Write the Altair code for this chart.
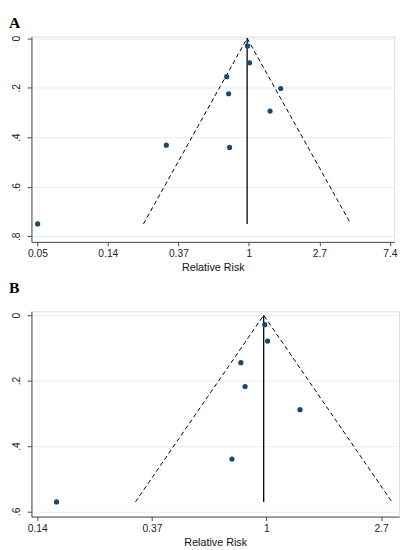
import math
import altair as alt
import pandas as pd

# ---------------- data ----------------
# Panel A
a_rr = [0.98, 1.01, 0.73, 1.57, 0.75, 1.35, 0.31, 0.76, 0.05]
a_se = [0.031, 0.099, 0.155, 0.203, 0.224, 0.294, 0.432, 0.441, 0.750]
a_pooled = 0.975
a_semax = 0.75

# Panel B
b_rr = [0.985, 1.01, 0.80, 0.83, 1.34, 0.74, 0.16]
b_se = [0.029, 0.079, 0.145, 0.218, 0.289, 0.440, 0.571]
b_pooled = 0.976
b_semax = 0.571

a_xticks = [0.0498, 0.1353, 0.3679, 1.0, 2.7183, 7.3891]
a_xlabels = ["0.05", "0.14", "0.37", "1", "2.7", "7.4"]
b_xticks = [0.1353, 0.3679, 1.0, 2.7183]
b_xlabels = ["0.14", "0.37", "1", "2.7"]

a_yticks = [0, 0.2, 0.4, 0.6, 0.8]
b_yticks = [0, 0.2, 0.4, 0.6]

a_xdomain = [0.0458, 7.84]
b_xdomain = [0.1286, 3.18]
a_ydomain = [-0.0067, 0.8226]
b_ydomain = [-0.012, 0.616]

POINT = "#1a476f"
GRID = "#e3ebf2"
AXIS = "#4a4a4a"
SANS = "Liberation Sans"
SERIF = "Liberation Serif"


def label_expr(vals, labels):
    expr = "'" + labels[-1] + "'"
    for i in range(len(vals) - 2, -1, -1):
        mid = math.sqrt(vals[i] * vals[i + 1])
        expr = f"datum.value < {mid} ? '{labels[i]}' : ({expr})"
    return expr


def panel(letter, rr, se, pooled, semax, xticks, xlabels, yticks, xdom, ydom,
          w, h, title_offset):
    pts = pd.DataFrame({"rr": rr, "se": se})
    z = 1.96
    funnel = pd.DataFrame({
        "rr": [pooled * math.exp(-z * semax), pooled, pooled * math.exp(z * semax)],
        "se": [semax, 0.0, semax],
        "o": [0, 1, 2],
    })
    vline = pd.DataFrame({"rr": [pooled], "se": [0.0], "se2": [semax]})

    xscale = alt.Scale(type="log", domain=xdom, nice=False, zero=False)
    yscale = alt.Scale(domain=ydom, reverse=True, nice=False, zero=False)

    xaxis = alt.Axis(
        values=xticks, labelExpr=label_expr(xticks, xlabels), title="Relative Risk",
        grid=False, tickSize=4, labelPadding=3, labelFontSize=10.5, labelFont=SANS,
        labelColor="#222222", titleFont=SANS, titleFontSize=11, titleFontWeight="normal",
        titleColor="#111111", titlePadding=3, domainColor=AXIS, tickColor=AXIS,
        labelFlush=False,
    )
    yaxis = alt.Axis(
        values=yticks,
        labelExpr="datum.value == 0 ? '0' : replace(format(datum.value, '.1f'), '0.', '.')",
        title=None, grid=True, gridColor=GRID, gridWidth=1, tickSize=4.5,
        labelAngle=270, labelAlign="center", labelBaseline="bottom", labelPadding=6,
        labelFontSize=10.5, labelFont=SANS, labelColor="#222222",
        domainColor=AXIS, tickColor=AXIS, minExtent=21, maxExtent=21,
    )

    base_x = alt.X("rr:Q", scale=xscale, axis=xaxis)
    base_y = alt.Y("se:Q", scale=yscale, axis=yaxis)

    fun = alt.Chart(funnel).mark_line(
        color="black", strokeWidth=1, strokeDash=[4.5, 3], clip=True
    ).encode(x=base_x, y=base_y, order="o:O")

    rule = alt.Chart(vline).mark_rule(color="black", strokeWidth=1.3).encode(
        x=alt.X("rr:Q", scale=xscale), y=alt.Y("se:Q", scale=yscale), y2="se2:Q"
    )

    dots = alt.Chart(pts).mark_circle(color=POINT, opacity=1, size=28).encode(
        x=alt.X("rr:Q", scale=xscale), y=alt.Y("se:Q", scale=yscale)
    )

    return alt.layer(fun, rule, dots).properties(
        width=w, height=h,
        title=alt.TitleParams(
            letter, anchor="start", frame="group", dx=-23, font=SERIF, fontSize=16,
            fontWeight="bold", color="black", offset=title_offset,
        ),
    )


pa = panel("A", a_rr, a_se, a_pooled, a_semax, a_xticks, a_xlabels, a_yticks,
           a_xdomain, a_ydomain, 371, 210, 5)
pb = panel("B", b_rr, b_se, b_pooled, b_semax, b_xticks, b_xlabels, b_yticks,
           b_xdomain, b_ydomain, 376, 210, 16)

chart = alt.vconcat(pa, pb, spacing=6).properties(padding=0).configure_view(
    stroke=None
).configure(background="white")

chart.save("out.html", embed_options={"renderer": "svg", "actions": False})
